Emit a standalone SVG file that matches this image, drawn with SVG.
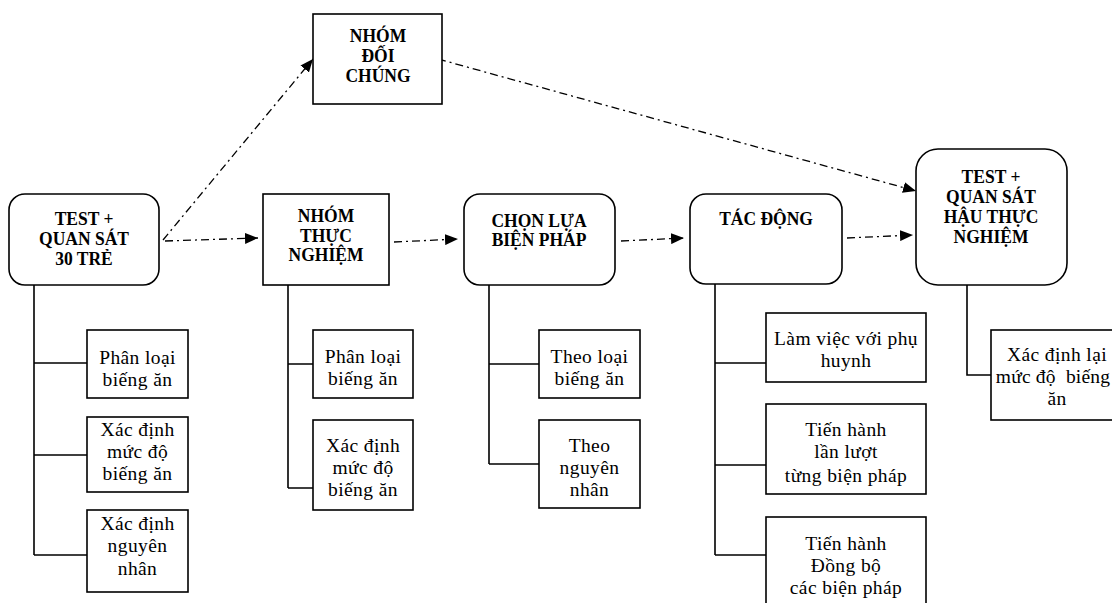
<svg xmlns="http://www.w3.org/2000/svg" width="1112" height="603" viewBox="0 0 1112 603">
<style>
.box{fill:#fff;stroke:#000;stroke-width:1.6}
.h{font-family:"Liberation Serif","Times New Roman",serif;font-weight:bold;font-size:17.5px;text-anchor:middle;fill:#000;transform-box:fill-box;transform-origin:center;transform:scaleY(1.06)}
.t{font-family:"Liberation Serif","Times New Roman",serif;font-size:19.5px;letter-spacing:0.4px;text-anchor:middle;fill:#000}
.ln{fill:none;stroke:#000;stroke-width:1.6}
.da{fill:none;stroke:#000;stroke-width:1.3;stroke-dasharray:8 4 2 4;marker-end:url(#ah)}
</style>
<defs>
<marker id="ah" viewBox="0 0 13 11" refX="13" refY="5.5" markerWidth="13" markerHeight="11" markerUnits="userSpaceOnUse" orient="auto">
<path d="M0,0 L13,5.5 L0,11 Z" fill="#000"/>
</marker>
</defs>
<g id="connectors">
<path class="ln" d="M34,285 V555 M34,363 H87 M34,455 H87 M34,555 H87"/>
<path class="ln" d="M288,285 V488 M288,364 H313 M288,488 H313"/>
<path class="ln" d="M489,285 V464 M489,364 H539 M489,464 H539"/>
<path class="ln" d="M715,284 V555 M715,363 H766 M715,465 H766 M715,555 H766"/>
<path class="ln" d="M967,285 V375 H991"/>
<path class="da" d="M165,241 L258,238"/>
<path class="da" d="M163,240 L313,59"/>
<path class="da" d="M438,59 L916,191"/>
<path class="da" d="M394,242 L458,239"/>
<path class="da" d="M621,241 L684,238"/>
<path class="da" d="M847,238 L913,235"/>
</g>
<g id="n-test">
<rect class="box" x="9" y="194" width="150" height="91" rx="16"/>
<text class="h" x="84" y="225">TEST +</text>
<text class="h" x="84" y="245">QUAN SÁT</text>
<text class="h" x="84" y="265">30 TRẺ</text>
</g>
<g id="n-doichung">
<rect class="box" x="313" y="14" width="129" height="90"/>
<text class="h" x="378" y="42">NHÓM</text>
<text class="h" x="378" y="62">ĐỐI</text>
<text class="h" x="378" y="82">CHÚNG</text>
</g>
<g id="n-thucnghiem">
<rect class="box" x="263" y="194" width="126" height="91"/>
<text class="h" x="326" y="222">NHÓM</text>
<text class="h" x="326" y="242">THỰC</text>
<text class="h" x="326" y="261">NGHIỆM</text>
</g>
<g id="n-chonlua">
<rect class="box" x="464" y="194" width="151" height="91" rx="16"/>
<text class="h" x="539" y="227">CHỌN LỰA</text>
<text class="h" x="539" y="246">BIỆN PHÁP</text>
</g>
<g id="n-tacdong">
<rect class="box" x="690" y="194" width="152" height="90" rx="16"/>
<text class="h" x="766" y="225">TÁC ĐỘNG</text>
</g>
<g id="n-hau">
<rect class="box" x="916" y="149" width="151" height="136" rx="22"/>
<text class="h" x="991" y="183">TEST +</text>
<text class="h" x="991" y="203">QUAN SÁT</text>
<text class="h" x="991" y="223">HẬU THỰC</text>
<text class="h" x="991" y="243">NGHIỆM</text>
</g>
<g id="c1a">
<rect class="box" x="87" y="330" width="101" height="68"/>
<text class="t" x="137.5" y="364">Phân loại</text>
<text class="t" x="137.5" y="386">biếng ăn</text>
</g>
<g id="c1b">
<rect class="box" x="87" y="417" width="101" height="75"/>
<text class="t" x="137.5" y="436">Xác định</text>
<text class="t" x="137.5" y="458">mức độ</text>
<text class="t" x="137.5" y="480">biếng ăn</text>
</g>
<g id="c1c">
<rect class="box" x="87" y="510" width="101" height="82"/>
<text class="t" x="137.5" y="530">Xác định</text>
<text class="t" x="137.5" y="552">nguyên</text>
<text class="t" x="137.5" y="575">nhân</text>
</g>
<g id="c2a">
<rect class="box" x="313" y="330" width="100" height="68"/>
<text class="t" x="363" y="363">Phân loại</text>
<text class="t" x="363" y="385">biếng ăn</text>
</g>
<g id="c2b">
<rect class="box" x="313" y="420" width="100" height="90"/>
<text class="t" x="363" y="452">Xác định</text>
<text class="t" x="363" y="474">mức độ</text>
<text class="t" x="363" y="496">biếng ăn</text>
</g>
<g id="c3a">
<rect class="box" x="539" y="330" width="101" height="68"/>
<text class="t" x="589.5" y="363">Theo loại</text>
<text class="t" x="589.5" y="385">biếng ăn</text>
</g>
<g id="c3b">
<rect class="box" x="539" y="420" width="101" height="88"/>
<text class="t" x="589.5" y="452">Theo</text>
<text class="t" x="589.5" y="474">nguyên</text>
<text class="t" x="589.5" y="496">nhân</text>
</g>
<g id="c4a">
<rect class="box" x="766" y="313" width="160" height="69"/>
<text class="t" x="846" y="345">Làm việc với phụ</text>
<text class="t" x="846" y="367">huynh</text>
</g>
<g id="c4b">
<rect class="box" x="766" y="404" width="160" height="90"/>
<text class="t" x="846" y="436">Tiến hành</text>
<text class="t" x="846" y="458">lần lượt</text>
<text class="t" x="846" y="482">từng biện pháp</text>
</g>
<g id="c4c">
<rect class="box" x="766" y="517" width="160" height="90"/>
<text class="t" x="846" y="550">Tiến hành</text>
<text class="t" x="846" y="572">Đồng bộ</text>
<text class="t" x="846" y="594">các biện pháp</text>
</g>
<g id="c5a">
<rect class="box" x="991" y="330" width="132" height="90"/>
<text class="t" x="1057" y="361">Xác định lại</text>
<text class="t" x="1053" y="383" style="letter-spacing:0.2px" xml:space="preserve">mức độ  biếng</text>
<text class="t" x="1057" y="405">ăn</text>
</g>
</svg>
